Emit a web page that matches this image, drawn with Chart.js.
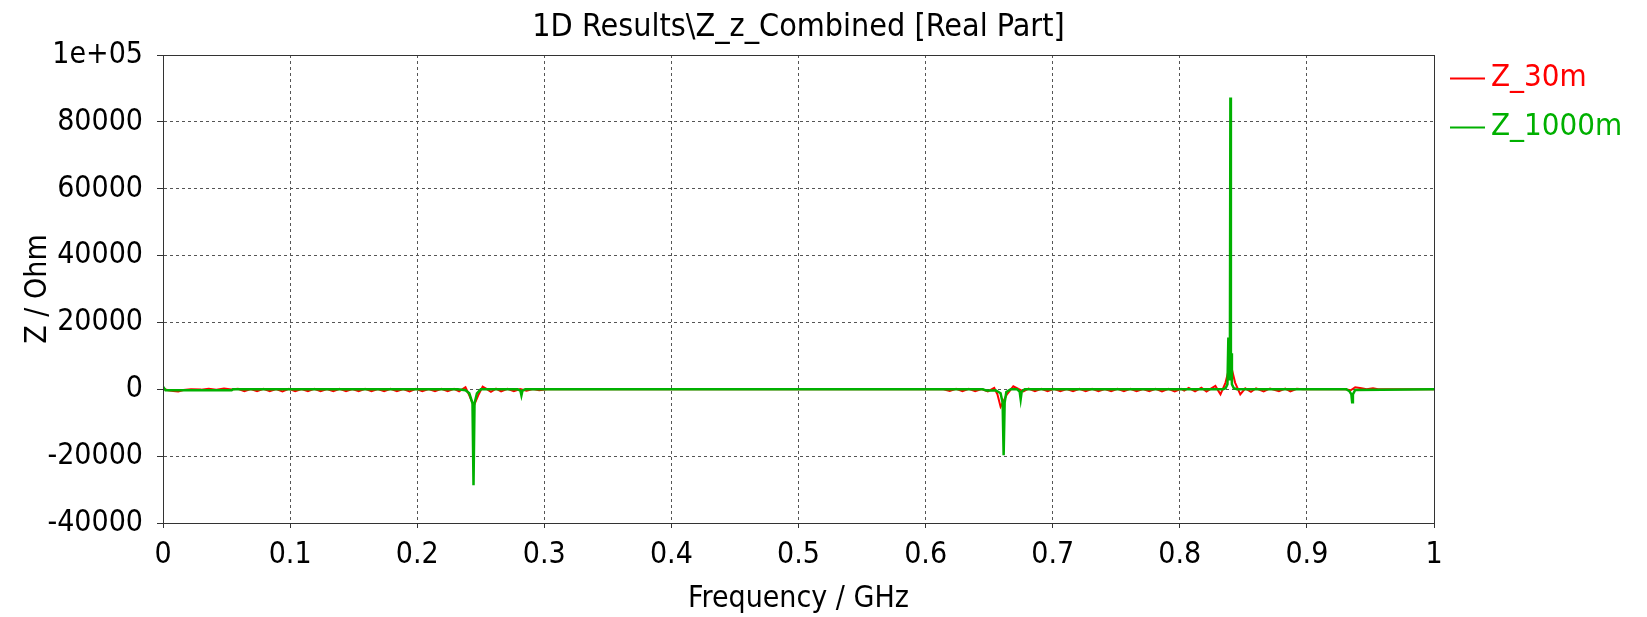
<!DOCTYPE html>
<html>
<head>
<meta charset="utf-8">
<script src="https://cdn.jsdelivr.net/npm/chart.js@4.4.0/dist/chart.umd.min.js"></script>
<style>
  html, body { margin: 0; padding: 0; background: #fff; }
</style>
</head>
<body>
<canvas id="lineChart" width="1647" height="617"></canvas>
<script>
// Z_30m (red) - frequency in GHz, real part in Ohm
var freq30 = [
  0, 0.004, 0.008, 0.012, 0.016, 0.022, 0.03, 0.036, 0.042, 0.048, 0.054,
  0.059, 0.064, 0.069, 0.074, 0.079, 0.084, 0.089, 0.094, 0.099, 0.104,
  0.109, 0.114, 0.119, 0.124, 0.129, 0.134, 0.139, 0.144, 0.149, 0.154,
  0.159, 0.164, 0.169, 0.174, 0.179, 0.184, 0.189, 0.194, 0.199, 0.204,
  0.209, 0.214, 0.219, 0.224, 0.229,
  0.233, 0.238, 0.241, 0.2445, 0.248, 0.2515, 0.2545, 0.258, 0.262, 0.266,
  0.271, 0.276, 0.281, 0.286, 0.291, 0.296, 0.302,
  0.6, 0.614, 0.619, 0.624, 0.629, 0.634, 0.639, 0.644, 0.649, 0.654,
  0.6565, 0.659, 0.664, 0.669, 0.673, 0.677, 0.681, 0.686, 0.691, 0.696,
  0.701, 0.706, 0.711, 0.716, 0.721, 0.726, 0.731, 0.736, 0.741, 0.746,
  0.751, 0.756, 0.761, 0.766, 0.771, 0.776, 0.781, 0.786, 0.791, 0.796,
  0.801, 0.8035, 0.807, 0.812, 0.817, 0.821, 0.828, 0.832, 0.836, 0.8398,
  0.8435, 0.8476, 0.8515, 0.856, 0.86, 0.866, 0.871, 0.878, 0.883, 0.887,
  0.892, 0.897, 0.93, 0.9345, 0.938, 0.943, 0.947, 0.952, 0.956, 1.0
];
var z30 = [
  200, -300, -500, -650, -200, 0, -100, 150, -100, 200, -50,
  150, -600, 100, -550, 150, -600, 100, -650, 150, -600,
  100, -550, 150, -600, 100, -600, 150, -550, 100, -600,
  150, -600, 100, -550, 150, -600, 100, -650, 150, -600,
  100, -550, 150, -600, 150,
  -650, 600, -1800, -5000, -1800, 800, 100, -750, 200, -650,
  150, -550, 100, -450, 100, -300, 0,
  0, 0, -500, 150, -550, 150, -550, 100, -650, 400,
  -1500, -5200, -1500, 900, 100, -650, 200, -600, 150, -550,
  150, -600, 100, -550, 150, -600, 150, -550, 100, -600,
  150, -550, 150, -600, 100, -550, 150, -650, 150, -650,
  150, -400, 400, -650, 500, -650, 1000, -1500, 2000, 7800,
  2000, -1500, 300, -750, 300, -650, 250, -600, 200, -600,
  150, 0, 0, -300, 600, 300, 0, 300, 0, 0
];

// Z_1000m (green)
var freq1000 = [
  0, 0.002, 0.054, 0.055,
  0.232, 0.238, 0.241, 0.2435, 0.2443, 0.2451, 0.247, 0.25,
  0.279, 0.2812, 0.282, 0.2828, 0.285,
  0.645, 0.648, 0.652, 0.655, 0.659, 0.6606, 0.6614, 0.6622, 0.6635, 0.667,
  0.672, 0.674, 0.6748, 0.6756, 0.678,
  0.834, 0.836, 0.8375, 0.8382, 0.8389, 0.8394, 0.8398, 0.8402, 0.8405, 0.841, 0.8425, 0.845,
  0.931, 0.9335, 0.935, 0.9356, 0.9362, 0.938, 1.0
];
var z1000 = [
  800, -300, -300, 0,
  0, -300, -1200, -4200, -28700, -4200, -1200, 0,
  0, -400, -1800, -400, 0,
  0, -400, -400, -300, -1200, -4000, -19700, -4000, -800, 0,
  0, -700, -3000, -700, 0,
  0, 300, 1500, 15500, 3000, 4000, 87300, 4000, 10800, 1500, 300, 0,
  0, -600, -1500, -3900, -1500, -200, 0
];

var seriesNames = ["Z_30m", "Z_1000m"];
var seriesColors = ["#ff0000", "#00b000"];
var titleText = "1D Results\\Z_z_Combined [Real Part]";

var FONT = '"DejaVu Sans Condensed", "Liberation Sans", sans-serif';

function toPoints(xs, ys) {
  var pts = [];
  for (var i = 0; i < xs.length; i++) pts.push({ x: xs[i], y: ys[i] });
  return pts;
}

var frameAndLegend = {
  id: 'frameAndLegend',
  afterDraw: function (chart) {
    var ctx = chart.ctx;
    var a = chart.chartArea;
    ctx.save();
    ctx.strokeStyle = '#333';
    ctx.lineWidth = 1;
    ctx.strokeRect(Math.round(a.left) + 0.5, Math.round(a.top) + 0.5,
      Math.round(a.right - a.left), Math.round(a.bottom - a.top));

    // title
    ctx.fillStyle = '#000';
    ctx.font = '32px ' + FONT;
    ctx.textAlign = 'center';
    ctx.textBaseline = 'middle';
    ctx.fillText(titleText, (a.left + a.right) / 2, 28);

    // legend
    ctx.font = '31px ' + FONT;
    ctx.textAlign = 'left';
    for (var i = 0; i < seriesNames.length; i++) {
      var y = 78 + i * 49;
      ctx.strokeStyle = seriesColors[i];
      ctx.lineWidth = 2;
      ctx.beginPath();
      ctx.moveTo(1450, y + 0.5);
      ctx.lineTo(1485, y + 0.5);
      ctx.stroke();
      ctx.fillStyle = seriesColors[i];
      ctx.fillText(seriesNames[i], 1491, y);
    }
    ctx.restore();
  }
};

var ctx = document.getElementById("lineChart").getContext('2d');
var lineChart = new Chart(ctx, {
  type: 'scatter',
  data: {
    datasets: [{
        label: seriesNames[0],
        data: toPoints(freq30, z30),
        borderColor: seriesColors[0],
        borderWidth: 2,
        showLine: true,
        pointRadius: 0,
        order: 2
      },
      {
        label: seriesNames[1],
        data: toPoints(freq1000, z1000),
        borderColor: seriesColors[1],
        borderWidth: 2.5,
        showLine: true,
        pointRadius: 0,
        order: 1
      }
    ]
  },
  options: {
    responsive: false,
    animation: false,
    layout: { padding: { top: 55, right: 213, left: 0, bottom: 0 } },
    plugins: {
      legend: { display: false },
      title: { display: false },
      tooltip: { enabled: false }
    },
    scales: {
      x: {
        type: 'linear',
        min: 0,
        max: 1,
        afterFit: function (s) { s.height = 94; },
        ticks: {
          stepSize: 0.1,
          autoSkip: false,
          maxRotation: 0,
          padding: 9,
          color: '#000',
          font: { size: 30, family: FONT },
          callback: function (v) { return String(Math.round(v * 10) / 10); }
        },
        grid: { color: '#555', lineWidth: 1, tickLength: 5, tickColor: '#333', tickBorderDash: [] },
        border: { display: true, color: '#333', dash: [3, 3] },
        title: {
          display: true,
          text: 'Frequency / GHz',
          color: '#000',
          font: { size: 30, family: FONT },
          padding: { top: 0, bottom: 0 }
        }
      },
      y: {
        min: -40000,
        max: 100000,
        afterFit: function (s) { s.width = 163; },
        ticks: {
          stepSize: 20000,
          padding: 14,
          color: '#000',
          font: { size: 30, family: FONT },
          callback: function (v) { return v === 100000 ? '1e+05' : String(v); }
        },
        grid: { color: '#555', lineWidth: 1, tickLength: 6, tickColor: '#333', tickBorderDash: [] },
        border: { display: true, color: '#333', dash: [3, 3] },
        title: {
          display: true,
          text: 'Z / Ohm',
          color: '#000',
          font: { size: 30, family: FONT },
          padding: { top: 20, bottom: 0 }
        }
      }
    }
  },
  plugins: [frameAndLegend]
});
</script>
</body>
</html>
